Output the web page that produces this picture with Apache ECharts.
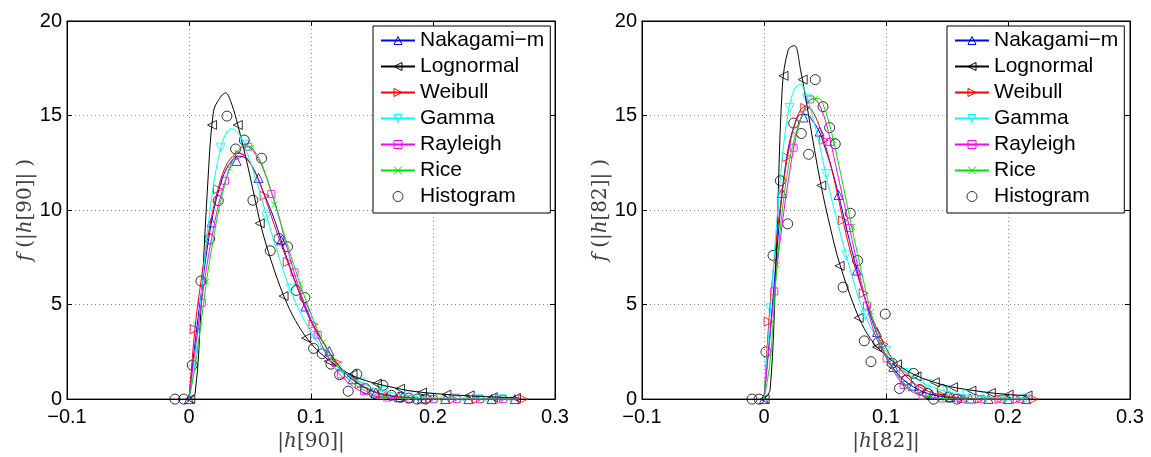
<!DOCTYPE html>
<html>
<head>
<meta charset="utf-8">
<script src="https://cdn.jsdelivr.net/npm/echarts@6/dist/echarts.min.js"></script>
<style>
html,body{margin:0;padding:0;background:#fff;}
#chart{width:1151px;height:457px;}
</style>
</head>
<body>
<div id="chart"></div>
<script>
// ---------- data ----------
const xTicks = [-0.1, 0, 0.1, 0.2, 0.3];
const yTicks = [0, 5, 10, 15, 20];
const legendNames = ['Nakagami−m', 'Lognormal', 'Weibull', 'Gamma', 'Rayleigh', 'Rice', 'Histogram'];

// left panel |h[90]| : fitted curves
const xCurveL = [0, 0.005, 0.01, 0.015, 0.02, 0.025, 0.03, 0.035, 0.04, 0.045, 0.05, 0.055, 0.06, 0.07, 0.08, 0.09, 0.1, 0.11, 0.12, 0.13, 0.14, 0.15, 0.16, 0.18, 0.2, 0.23, 0.27];
const nakaL  = [0, 3.0, 5.6, 8.0, 9.9, 11.2, 12.1, 12.6, 12.85, 12.8, 12.5, 11.9, 11.1, 9.5, 7.5, 5.7, 4.1, 3.0, 2.0, 1.25, 0.75, 0.42, 0.22, 0.06, 0.015, 0, 0];
const lognL  = [0, 0.3, 5.0, 11.0, 15.2, 15.9, 16.2, 15.6, 14.5, 13.2, 11.8, 10.3, 8.9, 6.8, 5.1, 3.85, 2.95, 2.3, 1.8, 1.38, 1.08, 0.88, 0.72, 0.45, 0.3, 0.17, 0.06];
const weibL  = [0, 3.8, 6.3, 8.4, 10.1, 11.4, 12.3, 12.8, 13.0, 12.9, 12.5, 11.9, 11.1, 9.2, 7.4, 5.7, 4.2, 3.0, 2.0, 1.3, 0.8, 0.45, 0.25, 0.07, 0.02, 0, 0];
const gammL  = [0, 2.0, 5.5, 8.8, 11.3, 13.0, 14.0, 14.3, 14.1, 13.5, 12.6, 11.6, 10.5, 8.3, 6.3, 4.75, 3.55, 2.6, 1.85, 1.3, 0.9, 0.6, 0.42, 0.19, 0.08, 0.02, 0];
const raylL  = [0, 2.6, 5.0, 7.2, 9.0, 10.5, 11.6, 12.5, 13.1, 13.35, 13.3, 12.9, 12.3, 10.5, 8.1, 5.9, 4.2, 2.7, 1.6, 0.9, 0.45, 0.2, 0.09, 0.01, 0, 0, 0];
const riceL  = [0, 1.7, 4.1, 6.5, 8.5, 10.2, 11.5, 12.5, 13.1, 13.4, 13.35, 13.0, 12.4, 10.4, 8.3, 6.3, 4.5, 3.0, 1.9, 1.1, 0.6, 0.3, 0.14, 0.02, 0, 0, 0];

// left panel markers
const nakaMkL = [[0,0],[0.0185,9.35],[0.039,12.6],[0.057,11.7],[0.0755,8.4],[0.0955,4.9],[0.115,2.55],[0.134,1.05],[0.153,0.35],[0.172,0.1],[0.191,0.03],[0.21,0],[0.229,0],[0.248,0],[0.267,0]];
const lognMkL = [[0.001,0],[0.0189,14.5],[0.040,14.5],[0.058,9.3],[0.0775,5.45],[0.096,3.23],[0.1145,2.0],[0.134,1.3],[0.154,0.82],[0.173,0.55],[0.191,0.35],[0.211,0.24],[0.23,0.2],[0.249,0.1],[0.268,0.06]];
const weibMkL = [[0.0047,3.7],[0.0238,11.1],[0.042,12.9],[0.062,10.75],[0.081,7.25],[0.102,3.95],[0.121,1.95],[0.14,0.8],[0.159,0.28],[0.178,0.08],[0.198,0.02],[0.217,0],[0.236,0],[0.255,0],[0.274,0]];
const gammMkL = [[0.0074,3.8],[0.026,13.3],[0.046,13.45],[0.0635,9.65],[0.0835,5.85],[0.103,3.35],[0.122,1.75],[0.141,0.87],[0.16,0.42],[0.18,0.19],[0.199,0.08],[0.218,0.04],[0.237,0.02],[0.256,0]];
const raylMkL = [[0.0105,5.1],[0.0295,11.55],[0.0485,13.35],[0.0675,10.85],[0.0865,6.7],[0.1055,3.4],[0.1245,1.3],[0.1435,0.42],[0.1625,0.08],[0.1815,0.01],[0.2005,0],[0.2195,0],[0.2385,0],[0.2575,0]];
const riceMkL = [[0.0142,6.2],[0.0334,12.2],[0.051,13.3],[0.070,10.3],[0.091,6.1],[0.11,3.0],[0.129,1.15],[0.148,0.35],[0.167,0.08],[0.186,0.01],[0.205,0],[0.224,0],[0.243,0],[0.262,0]];
const histXL = [-0.0115,-0.0044,0.0027,0.0098,0.0169,0.024,0.0311,0.0382,0.0453,0.0524,0.0595,0.0666,0.0737,0.0808,0.0879,0.095,0.1021,0.1092,0.1163,0.1234,0.1305,0.1376,0.1447,0.1518,0.159,0.166,0.173,0.18,0.187,0.194];
const histYL = [0,0,1.8,6.25,8.47,10.5,14.97,13.23,13.7,10.52,12.74,7.85,8.49,8.06,5.75,5.37,2.68,2.4,1.85,1.29,0.42,1.32,0.55,0.3,0.73,0.2,0.1,0.05,0,0];

// right panel |h[82]| : fitted curves
const xCurveR = [0, 0.005, 0.01, 0.015, 0.02, 0.025, 0.03, 0.035, 0.04, 0.045, 0.05, 0.055, 0.06, 0.07, 0.08, 0.09, 0.1, 0.11, 0.12, 0.13, 0.14, 0.15, 0.16, 0.18, 0.2, 0.215];
const nakaR  = [0, 3.5, 7.4, 11.0, 13.3, 14.5, 15.05, 15.05, 14.7, 14.2, 13.3, 12.3, 11.1, 8.4, 5.9, 3.9, 2.3, 1.3, 0.75, 0.4, 0.2, 0.1, 0.04, 0.01, 0, 0];
const lognR  = [0, 0.5, 7.5, 16.5, 18.5, 18.7, 17.4, 15.6, 13.7, 11.9, 10.3, 8.9, 7.6, 5.6, 4.0, 2.95, 2.3, 1.8, 1.4, 1.1, 0.88, 0.7, 0.57, 0.38, 0.24, 0.19];
const weibR  = [0, 5.0, 8.3, 11.0, 13.1, 14.5, 15.3, 15.5, 15.2, 14.5, 13.5, 12.3, 10.9, 8.0, 5.9, 4.1, 2.7, 1.7, 1.0, 0.55, 0.3, 0.15, 0.07, 0.01, 0, 0];
const gammR  = [0, 4.5, 9.0, 12.8, 15.2, 16.4, 16.65, 16.0, 14.9, 13.6, 12.1, 10.7, 9.4, 7.0, 4.9, 3.5, 2.55, 1.8, 1.25, 0.85, 0.58, 0.4, 0.27, 0.12, 0.05, 0.03];
const raylR  = [0, 3.4, 6.6, 9.3, 11.6, 13.5, 14.8, 15.6, 15.9, 15.6, 14.8, 13.5, 12.0, 9.1, 6.1, 3.6, 2.2, 1.1, 0.45, 0.16, 0.05, 0.01, 0, 0, 0, 0];
const riceR  = [0, 2.0, 6.5, 10.0, 12.3, 13.8, 14.8, 15.5, 15.9, 15.9, 15.3, 14.2, 12.8, 9.7, 6.7, 4.0, 2.3, 1.2, 0.55, 0.22, 0.08, 0.02, 0, 0, 0, 0];

// right panel markers
const nakaMkR = [[0,0],[0.0148,10.9],[0.0325,14.9],[0.0456,14.15],[0.0611,10.8],[0.0762,6.8],[0.0926,3.55],[0.106,1.7],[0.122,0.7],[0.1375,0.25],[0.153,0.1],[0.169,0.03],[0.184,0.01],[0.2,0],[0.215,0]];
const lognMkR = [[0.0005,0],[0.016,17.1],[0.0317,16.9],[0.047,11.3],[0.062,7.05],[0.0776,4.3],[0.0926,2.75],[0.109,1.84],[0.125,1.2],[0.14,0.89],[0.155,0.63],[0.17,0.45],[0.186,0.33],[0.2005,0.24],[0.216,0.19]];
const weibMkR = [[0.0038,4.1],[0.0188,12.8],[0.0338,15.4],[0.049,13.7],[0.0647,9.45],[0.0817,5.6],[0.098,2.9],[0.1145,1.35],[0.13,0.55],[0.146,0.2],[0.162,0.06],[0.177,0.02],[0.193,0],[0.208,0],[0.221,0]];
const gammMkR = [[0.0052,4.8],[0.021,15.4],[0.0352,15.9],[0.051,11.9],[0.0675,7.6],[0.083,4.45],[0.1,2.55],[0.117,1.37],[0.1336,0.8],[0.15,0.42],[0.166,0.24],[0.182,0.12],[0.198,0.06],[0.214,0.03]];
const raylMkR = [[0.0084,5.7],[0.0243,13.3],[0.038,15.85],[0.0543,13.6],[0.0702,9.05],[0.0844,4.95],[0.1005,2.15],[0.1144,0.75],[0.13,0.16],[0.146,0.03],[0.162,0],[0.178,0],[0.194,0],[0.21,0]];
const riceMkR = [[0.0107,7.1],[0.0262,14.0],[0.0417,15.9],[0.0566,13.7],[0.0721,9.1],[0.0877,4.6],[0.103,1.95],[0.118,0.65],[0.134,0.17],[0.149,0.04],[0.165,0],[0.18,0],[0.196,0],[0.211,0]];
const histXR = [-0.0098,-0.004,0.0016,0.0074,0.0134,0.0194,0.0243,0.0306,0.0366,0.042,0.0484,0.0538,0.0584,0.0648,0.0707,0.0767,0.0822,0.0877,0.0935,0.0994,0.105,0.111,0.1168,0.1226,0.128,0.134,0.139,0.146,0.152,0.158];
const histYR = [0,0,2.5,7.6,11.55,9.27,14.6,14.05,12.95,16.9,15.47,14.36,13.5,5.92,9.83,7.33,3.08,1.98,3.0,4.5,1.9,0.56,1.0,1.36,0.5,0.3,0,0.5,0.1,0];

// ---------- styling table ----------
const dists = [
  {name: legendNames[0], color: '#0000ff', symbol: 'triangle', size: 9, L: nakaL, R: nakaR, mL: nakaMkL, mR: nakaMkR},
  {name: legendNames[1], color: '#000000', symbol: 'path://M0,5L10,0L10,10Z', size: 9, L: lognL, R: lognR, mL: lognMkL, mR: lognMkR},
  {name: legendNames[2], color: '#ff0000', symbol: 'path://M10,5L0,0L0,10Z', size: 9, L: weibL, R: weibR, mL: weibMkL, mR: weibMkR},
  {name: legendNames[3], color: '#00ffff', symbol: 'path://M0,0L10,0L5,10Z', size: 9, L: gammL, R: gammR, mL: gammMkL, mR: gammMkR},
  {name: legendNames[4], color: '#ff00ff', symbol: 'rect', size: 7, L: raylL, R: raylR, mL: raylMkL, mR: raylMkR},
  {name: legendNames[5], color: '#00e000', symbol: 'path://M0,0L10,10M10,0L0,10', size: 6, L: riceL, R: riceR, mL: riceMkL, mR: riceMkR}
];

const panels = [
  {left: 67, label: '90', xs: xCurveL, key: 'L', mk: 'mL', hx: histXL, hy: histYL, legendLeft: 373},
  {left: 642, label: '82', xs: xCurveR, key: 'R', mk: 'mR', hx: histXR, hy: histYR, legendLeft: 947}
];

const FONT = 'Liberation Sans, Arial, Helvetica, sans-serif';
const SERIF = 'DejaVu Serif, Liberation Serif, serif';
const fmtX = v => { const r = Math.round(v * 10) / 10; if (r === 0) return '0'; return (r < 0 ? '−' : '') + Math.abs(r).toFixed(1); };

const grids = [], xAxes = [], yAxes = [], series = [], legends = [];
panels.forEach((p, pi) => {
  grids.push({left: p.left, top: 21, width: 488, height: 384, show: true, borderColor: '#000', borderWidth: 1, backgroundColor: '#fff', containLabel: false});
  const nameRich = {
    i: {fontFamily: SERIF, fontStyle: 'italic', fontSize: 20, color: '#404040'},
    n: {fontFamily: SERIF, fontSize: 20, color: '#404040'},
    s: {fontFamily: SERIF, fontSize: 20, color: '#404040', width: 6}
  };
  xAxes.push({
    type: 'value', gridIndex: pi, min: xTicks[0], max: xTicks[xTicks.length - 1], interval: 0.1, position: 'bottom',
    axisLine: {show: true, onZero: false, lineStyle: {color: '#000', width: 1}},
    axisTick: {show: true, inside: true, length: 5, lineStyle: {color: '#000'}},
    axisLabel: {show: true, fontSize: 20, fontFamily: FONT, color: '#000', margin: 8, formatter: fmtX},
    splitLine: {show: true, lineStyle: {color: '#8c8c8c', type: [1, 3], width: 1}},
    name: '{n||}{i|h}{n|[' + p.label + ']|}', nameLocation: 'middle', nameGap: 25,
    nameTextStyle: {rich: nameRich}
  });
  xAxes.push({
    type: 'value', gridIndex: pi, min: xTicks[0], max: xTicks[xTicks.length - 1], interval: 0.1, position: 'top',
    axisLine: {show: true, onZero: false, lineStyle: {color: '#000'}},
    axisTick: {show: true, inside: true, length: 5, lineStyle: {color: '#000'}},
    axisLabel: {show: false}, splitLine: {show: false}
  });
  yAxes.push({
    type: 'value', gridIndex: pi, min: yTicks[0], max: yTicks[yTicks.length - 1], interval: 5, position: 'left',
    axisLine: {show: true, onZero: false, lineStyle: {color: '#000', width: 1}},
    axisTick: {show: true, inside: true, length: 5, lineStyle: {color: '#000'}},
    axisLabel: {show: true, fontSize: 20, fontFamily: FONT, color: '#000', margin: 5},
    splitLine: {show: true, lineStyle: {color: '#8c8c8c', type: [1, 3], width: 1}},
    name: '{i|f}{s| }{n|(|}{i|h}{n|[' + p.label + ']|}{s| }{n|)}', nameLocation: 'middle', nameGap: 30,
    nameTextStyle: {rich: nameRich}
  });
  yAxes.push({
    type: 'value', gridIndex: pi, min: yTicks[0], max: yTicks[yTicks.length - 1], interval: 5, position: 'right',
    axisLine: {show: true, onZero: false, lineStyle: {color: '#000'}},
    axisTick: {show: true, inside: true, length: 5, lineStyle: {color: '#000'}},
    axisLabel: {show: false}, splitLine: {show: false}
  });
  const xi = pi * 2, yi = pi * 2;
  dists.forEach(d => {
    const item = {color: 'rgba(0,0,0,0)', borderColor: d.color, borderWidth: 1};
    series.push({
      type: 'line', name: d.name, xAxisIndex: xi, yAxisIndex: yi,
      data: p.xs.map((x, i) => [x, d[p.key][i]]),
      smooth: 0.35, showSymbol: false, symbol: d.symbol, symbolSize: d.size,
      lineStyle: {color: d.color, width: 1}, itemStyle: item,
      emphasis: {disabled: true}, silent: true
    });
    series.push({
      type: 'scatter', name: d.name, xAxisIndex: xi, yAxisIndex: yi,
      data: d[p.mk], symbol: d.symbol, symbolSize: d.size,
      itemStyle: item, emphasis: {disabled: true}, silent: true
    });
  });
  series.push({
    type: 'scatter', name: legendNames[6], xAxisIndex: xi, yAxisIndex: yi,
    data: p.hx.map((x, i) => [x, p.hy[i]]), symbol: 'circle', symbolSize: 10,
    itemStyle: {color: 'rgba(0,0,0,0)', borderColor: '#000', borderWidth: 1},
    emphasis: {disabled: true}, silent: true
  });
  legends.push({
    data: legendNames, orient: 'vertical', left: p.legendLeft, top: 26,
    width: 178, itemWidth: 34, itemHeight: 10, itemGap: 5,
    padding: [4, 6, 6, 7], backgroundColor: '#fff', borderColor: '#000', borderWidth: 1,
    itemStyle: {color: 'rgba(0,0,0,0)', borderColor: 'inherit', borderWidth: 1},
    textStyle: {fontSize: 21, fontFamily: FONT, color: '#000', lineHeight: 21},
    selectedMode: false, inactiveColor: '#000'
  });
});

const chart = echarts.init(document.getElementById('chart'), null, {renderer: 'canvas'});
chart.setOption({
  animation: false,
  backgroundColor: '#fff',
  grid: grids, xAxis: xAxes, yAxis: yAxes, series: series, legend: legends
});
</script>
</body>
</html>
